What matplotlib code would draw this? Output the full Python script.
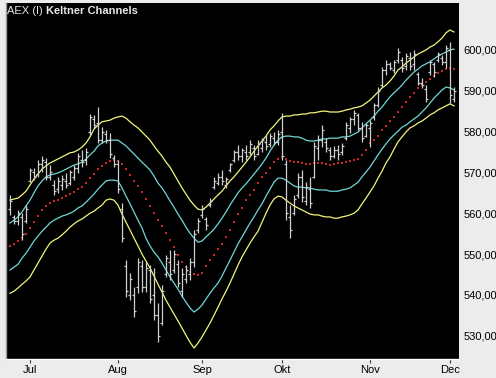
import numpy as np
import matplotlib
matplotlib.use("Agg")
import matplotlib.pyplot as plt

# ---------------- data ----------------
month_labels = ['Jul', 'Aug', 'Sep', 'Okt', 'Nov', 'Dec']
month_start_idx = [5, 27, 48, 68, 90, 110]
ytick_values = [530, 540, 550, 560, 570, 580, 590, 600]

high = [564.5, 559.6, 560.8, 560.0, 562.0, 571.1, 571.1, 573.0, 574.0, 573.5,
        571.8, 568.1, 568.9, 569.4, 569.9, 570.6, 571.8, 574.8, 575.5, 576.0,
        584.3, 584.1, 586.0, 581.1, 580.4, 579.7, 574.3, 573.0, 562.5, 548.5,
        545.3, 541.9, 549.0, 548.5, 548.0, 547.3, 546.6, 538.0, 542.4, 549.8,
        551.0, 551.0, 548.5, 546.6, 547.3, 549.0, 555.9, 558.8, 562.0, 559.1,
        563.7, 568.9, 569.9, 570.6, 568.9, 572.3, 575.5, 576.7, 576.0, 576.7,
        577.9, 576.7, 577.9, 578.4, 579.2, 579.7, 579.9, 580.4, 584.6, 573.0,
        562.0, 564.5, 569.9, 570.6, 567.6, 568.9, 577.5, 579.2, 581.6, 578.4,
        576.2, 576.5, 576.7, 577.2, 582.4, 583.6, 585.3, 584.6, 582.4, 582.1,
        582.8, 587.0, 590.9, 595.8, 597.5, 597.1, 597.5, 600.5, 598.3, 599.3,
        599.5, 600.0, 594.6, 593.1, 591.4, 597.5, 597.1, 599.5, 598.8, 601.2,
        602.0, 590.9]
low = [559.6, 557.4, 557.1, 553.4, 557.6, 567.6, 568.1, 568.9, 570.1, 568.1,
       568.1, 564.5, 564.9, 565.7, 566.2, 566.9, 568.1, 569.9, 571.3, 571.8,
       579.2, 580.9, 577.2, 577.2, 577.2, 573.5, 571.3, 564.9, 552.9, 539.5,
       538.7, 534.6, 540.4, 540.7, 540.7, 538.0, 533.8, 528.4, 532.6, 544.4,
       543.6, 545.3, 541.9, 539.5, 542.9, 543.6, 546.8, 555.1, 558.8, 555.9,
       561.5, 565.9, 566.9, 566.9, 566.2, 570.1, 572.5, 573.0, 572.5, 573.0,
       574.3, 573.0, 574.3, 575.0, 575.5, 576.2, 576.7, 576.7, 573.0, 558.3,
       553.9, 559.6, 563.7, 562.7, 562.0, 561.3, 568.6, 573.0, 576.2, 575.0,
       573.0, 573.5, 573.0, 574.3, 577.9, 579.7, 581.6, 580.4, 577.5, 578.7,
       576.2, 582.8, 586.0, 590.9, 593.9, 595.1, 594.4, 596.8, 594.6, 595.1,
       595.1, 595.1, 591.4, 590.7, 587.3, 593.9, 593.4, 597.1, 596.3, 595.6,
       587.0, 587.3]
open_ = [561.0, 559.0, 558.0, 559.0, 558.0, 568.0, 570.0, 569.5, 572.0, 572.5,
         569.0, 567.0, 566.0, 567.0, 568.0, 567.5, 569.0, 571.0, 573.0, 573.0,
         580.0, 583.0, 582.0, 578.0, 579.5, 578.0, 573.5, 572.0, 561.0, 547.0,
         540.0, 540.0, 542.0, 547.0, 542.0, 546.0, 540.0, 535.0, 533.0, 545.0,
         548.0, 546.0, 547.5, 541.0, 544.0, 545.0, 548.0, 556.0, 559.5, 558.5,
         562.0, 566.5, 567.5, 569.0, 567.0, 570.5, 573.0, 575.0, 574.0, 575.0,
         575.0, 576.0, 574.5, 576.0, 577.5, 577.0, 578.5, 577.5, 580.0, 572.0,
         559.0, 560.0, 564.5, 569.0, 563.0, 566.0, 569.0, 576.0, 578.0, 577.5,
         575.5, 574.0, 575.5, 575.0, 578.5, 581.0, 583.0, 584.0, 581.0, 579.0,
         581.0, 583.5, 586.5, 591.5, 595.0, 596.5, 595.0, 597.5, 597.5, 596.0,
         598.0, 596.5, 594.0, 592.0, 590.5, 594.5, 596.5, 597.5, 598.0, 597.0,
         600.0, 588.0]
close = [563.0, 558.0, 560.0, 555.0, 561.0, 570.5, 569.0, 572.0, 573.0, 569.0,
         570.0, 565.5, 568.0, 568.5, 567.0, 570.0, 571.0, 574.0, 572.5, 575.0,
         583.5, 581.5, 578.0, 580.0, 578.0, 574.5, 572.0, 566.0, 554.0, 541.0,
         544.0, 536.0, 548.0, 542.0, 546.5, 539.0, 535.0, 530.0, 541.0, 549.0,
         545.0, 550.0, 543.0, 545.0, 546.0, 548.0, 555.0, 558.0, 561.0, 557.0,
         563.0, 568.0, 569.0, 568.0, 568.5, 572.0, 575.0, 574.0, 575.5, 574.0,
         577.0, 574.0, 577.0, 578.0, 576.5, 579.0, 577.5, 579.5, 574.0, 560.0,
         556.0, 563.5, 569.0, 564.0, 566.5, 562.5, 576.5, 578.0, 580.5, 576.0,
         574.0, 575.5, 574.5, 576.5, 581.5, 583.0, 584.5, 581.0, 578.5, 581.5,
         582.0, 586.5, 590.0, 595.0, 596.5, 595.5, 597.0, 599.5, 595.5, 598.5,
         596.0, 599.0, 592.0, 591.5, 588.0, 597.0, 594.5, 599.0, 597.0, 600.5,
         589.0, 590.0]

middle = [552.0, 552.5, 553.2, 553.9, 554.9, 556.4, 557.8, 559.3, 560.8, 561.8,
          562.5, 563.0, 563.2, 563.7, 564.2, 564.7, 565.2, 565.9, 566.4, 567.4,
          568.6, 569.6, 570.8, 571.6, 572.3, 572.8, 573.0, 572.8, 572.1, 570.8,
          569.4, 567.9, 566.7, 565.2, 563.5, 561.8, 560.0, 558.3, 556.9, 555.1,
          553.4, 551.7, 549.8, 548.0, 546.8, 545.6, 545.1, 544.9, 545.3, 547.1,
          548.5, 549.8, 551.2, 552.5, 554.2, 555.9, 557.8, 559.8, 561.3, 563.2,
          564.5, 565.7, 567.4, 568.9, 569.9, 571.1, 572.5, 573.3, 573.8, 573.3,
          572.8, 572.5, 572.5, 572.3, 572.1, 572.1, 572.3, 572.3, 572.3, 572.1,
          571.8, 572.1, 572.3, 572.3, 572.5, 572.8, 573.0, 573.3, 574.3, 575.5,
          577.2, 577.9, 578.9, 580.4, 581.4, 582.6, 583.6, 584.8, 586.0, 587.3,
          588.5, 589.5, 590.7, 591.4, 592.2, 592.9, 593.6, 594.4, 594.9, 595.3,
          595.6, 595.3]
inner_upper = [557.6, 558.3, 559.1, 560.3, 561.8, 563.2, 565.0, 566.7, 567.9, 568.9,
               569.4, 569.6, 569.9, 570.3, 570.8, 571.3, 571.8, 572.1, 572.5, 573.3,
               574.3, 575.2, 576.5, 577.2, 577.7, 577.9, 577.9, 577.9, 577.2, 576.5,
               575.5, 574.5, 573.5, 572.5, 571.6, 570.6, 569.1, 567.4, 566.2, 564.7,
               563.0, 561.5, 559.8, 558.3, 556.6, 555.1, 553.9, 552.9, 553.2, 554.2,
               555.1, 556.1, 557.4, 558.8, 560.3, 562.0, 563.5, 565.0, 566.2, 567.2,
               568.4, 569.6, 570.8, 572.1, 573.5, 575.2, 576.7, 577.9, 578.7, 578.9,
               578.9, 578.7, 578.7, 578.4, 577.9, 577.7, 577.7, 577.9, 578.2, 578.2,
               578.4, 578.4, 578.4, 578.7, 578.7, 578.9, 579.4, 579.9, 580.9, 581.9,
               582.8, 583.8, 585.0, 586.0, 587.3, 588.5, 589.5, 590.4, 591.4, 592.6,
               593.6, 594.6, 595.3, 596.1, 596.6, 597.1, 597.8, 598.5, 599.0, 599.5,
               600.0, 600.2]
inner_lower = [546.1, 546.8, 547.5, 549.0, 550.2, 551.7, 553.2, 554.4, 555.6, 556.6,
               557.6, 558.3, 558.8, 559.3, 559.6, 560.0, 560.5, 561.3, 561.8, 562.7,
               563.7, 564.7, 565.9, 566.9, 567.9, 568.1, 568.1, 567.9, 566.2, 564.2,
               562.3, 560.3, 558.3, 556.4, 553.9, 552.0, 550.5, 549.3, 547.8, 546.1,
               544.4, 542.9, 541.4, 539.7, 538.2, 536.8, 535.8, 536.5, 537.5, 539.0,
               540.4, 541.7, 542.9, 544.6, 546.6, 548.5, 550.5, 552.5, 554.2, 555.9,
               557.6, 559.1, 560.8, 562.3, 564.2, 565.9, 567.6, 568.6, 568.6, 568.1,
               567.4, 566.7, 566.4, 566.4, 566.2, 566.2, 565.9, 565.7, 565.7, 565.7,
               565.4, 565.4, 565.4, 565.7, 565.9, 566.2, 566.9, 567.6, 568.9, 570.1,
               571.3, 572.8, 574.3, 575.7, 577.0, 578.2, 579.2, 580.1, 581.1, 581.6,
               582.4, 583.1, 583.8, 584.8, 585.8, 587.0, 588.2, 589.2, 590.2, 590.9,
               590.7, 590.2]
outer_upper = [563.2, 563.5, 563.7, 564.5, 565.4, 566.9, 568.4, 569.6, 570.8, 571.6,
               572.3, 572.8, 573.3, 573.8, 574.3, 574.8, 575.0, 575.5, 576.2, 577.2,
               578.7, 580.6, 581.6, 582.4, 582.6, 582.8, 583.3, 583.6, 583.8, 583.3,
               582.4, 581.6, 580.9, 579.9, 578.9, 577.9, 576.5, 575.2, 574.0, 572.5,
               571.3, 569.6, 567.9, 566.2, 564.7, 563.2, 562.0, 561.0, 560.8, 561.5,
               562.5, 563.5, 564.5, 565.4, 566.7, 567.9, 568.9, 570.1, 571.3, 572.5,
               573.8, 575.2, 576.5, 577.7, 578.9, 580.4, 581.4, 582.6, 583.6, 583.8,
               583.8, 584.1, 584.1, 584.3, 584.3, 584.6, 584.6, 584.8, 585.0, 585.0,
               584.8, 584.8, 584.8, 585.0, 585.3, 585.5, 585.8, 586.0, 586.3, 587.0,
               587.7, 588.7, 589.7, 590.7, 591.4, 592.4, 593.6, 595.1, 595.8, 596.8,
               597.5, 598.3, 599.0, 599.5, 600.0, 600.7, 601.2, 602.0, 602.9, 604.2,
               604.9, 604.4]
outer_lower = [540.4, 540.9, 541.7, 542.6, 543.4, 544.4, 546.1, 547.8, 549.5, 551.2,
               552.7, 553.4, 553.9, 554.7, 555.6, 556.6, 557.4, 558.1, 558.6, 559.3,
               560.0, 560.5, 561.3, 562.0, 563.2, 563.5, 563.2, 562.0, 559.8, 557.8,
               555.9, 553.9, 552.0, 550.0, 548.3, 546.6, 544.6, 542.6, 540.7, 538.7,
               537.0, 535.3, 533.6, 531.9, 530.1, 528.4, 527.0, 528.2, 529.7, 531.4,
               533.1, 535.0, 537.0, 539.0, 540.9, 542.9, 545.1, 547.3, 549.3, 551.0,
               552.7, 554.2, 555.6, 557.8, 560.0, 562.0, 563.5, 564.2, 564.0, 563.2,
               562.5, 561.8, 561.3, 560.8, 560.3, 559.8, 559.6, 559.6, 559.3, 559.1,
               559.1, 558.8, 558.8, 559.1, 559.3, 559.6, 560.0, 560.8, 562.3, 563.7,
               565.2, 566.7, 568.6, 570.3, 572.3, 573.8, 575.7, 577.5, 578.7, 579.9,
               580.9, 581.4, 582.1, 582.6, 583.3, 584.1, 584.6, 585.3, 585.8, 586.3,
               586.8, 586.3]

# ---------------- figure ----------------
W, H = 496, 378
fig = plt.figure(figsize=(W / 100, H / 100), dpi=100, facecolor='#ececec')
ax = fig.add_axes([6 / W, (H - 359) / H, (459 - 6) / W, (359 - 3) / H])
ax.set_facecolor('black')

x = np.arange(len(high))

# bands
ax.plot(x, outer_upper, color='#f4f47a', lw=0.9)
ax.plot(x, outer_lower, color='#f4f47a', lw=0.9)
ax.plot(x, inner_upper, color='#6fd8d8', lw=0.9)
ax.plot(x, inner_lower, color='#6fd8d8', lw=0.9)
ax.plot(x, middle, linestyle='none', marker='s', ms=1.7, mew=0,
        color='#cc2626')

# OHLC bars
bar_col = '#cfcfcf'
ax.vlines(x, low, high, color=bar_col, lw=0.9)
ax.hlines(open_, x - 0.45, x, color=bar_col, lw=0.9)
ax.hlines(close, x, x + 0.45, color=bar_col, lw=0.9)

ax.set_xlim(-1, 112.25)
ax.set_ylim(524.3, 611.5)

# axes styling
ax.yaxis.tick_right()
ax.set_yticks(ytick_values)
ax.set_yticklabels([f"{v:.2f}".replace('.', ',') for v in ytick_values])
ax.tick_params(axis='y', length=0, pad=3, labelsize=8, labelcolor='black')
ax.set_xticks(month_start_idx)
ax.set_xticklabels(month_labels)
ax.tick_params(axis='x', length=3, width=0.8, color='#404040', pad=1.5,
               labelsize=8, labelcolor='black', direction='out')
for lab in ax.get_xticklabels() + ax.get_yticklabels():
    lab.set_fontfamily('Liberation Sans')

for s in ('top', 'right'):
    ax.spines[s].set_visible(False)
ax.spines['left'].set_color('#9a9a9a')
ax.spines['left'].set_linewidth(1.0)
ax.spines['bottom'].set_color('white')
ax.spines['bottom'].set_linewidth(1.0)

# title
fig.text(7 / W, 1 - 11 / H, 'AEX (I)', color='#e6e6e6', fontsize=8,
         family='Liberation Sans', va='center', ha='left')
fig.text(46 / W, 1 - 11 / H, 'Keltner Channels', color='#e6e6e6', fontsize=8,
         family='Liberation Sans', fontweight='bold', va='center', ha='left')

fig.savefig('out.png', dpi=100, facecolor=fig.get_facecolor())
